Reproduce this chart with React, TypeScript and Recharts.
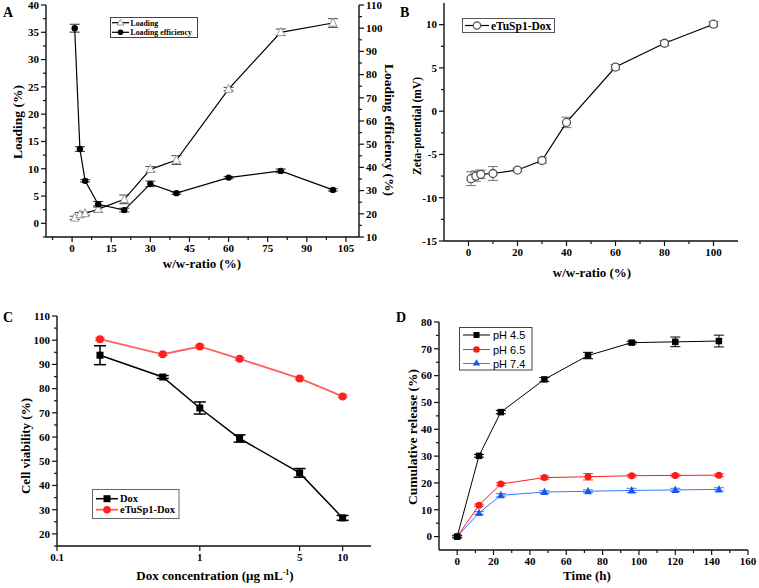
import React from 'react';
import { LineChart, Line, XAxis, YAxis, ErrorBar, Legend } from 'recharts';

const SERIF = '"Liberation Serif","Times New Roman",serif';
const SANS = '"Liberation Sans",Arial,sans-serif';

// ---------- Panel A ----------
const ratioA = [1, 3, 5, 10, 20, 30, 40, 60, 80, 100];
const loadingA = [1.0, 1.6, 1.8, 2.6, 4.4, 9.9, 11.6, 24.6, 35.0, 36.7];
const loadingErrA = [0.3, 0.4, 0.3, 0.6, 0.8, 0.5, 0.8, 0.3, 0.6, 0.8];
const effA = [100, 47.9, 34.2, 24.1, 21.6, 32.9, 28.9, 35.6, 38.5, 30.3];
const effErrA = [1.7, 1.0, 0.5, 1.2, 0.8, 1.2, 0.5, 0.5, 0.8, 0.5];
const xMajorA = [0, 15, 30, 45, 60, 75, 90, 105];
const xMinorA = [-7.5, 7.5, 22.5, 37.5, 52.5, 67.5, 82.5, 97.5];
const yMajorA = [0, 5, 10, 15, 20, 25, 30, 35, 40];
const yMinorA = [-2.5, 2.5, 7.5, 12.5, 17.5, 22.5, 27.5, 32.5, 37.5];
const y2MajorA = [10, 20, 30, 40, 50, 60, 70, 80, 90, 100, 110];
const y2MinorA = [15, 25, 35, 45, 55, 65, 75, 85, 95, 105];

// ---------- Panel B ----------
const ratioB = [1, 3, 5, 10, 20, 30, 40, 60, 80, 100];
const zetaB = [-7.8, -7.5, -7.3, -7.2, -6.8, -5.7, -1.3, 5.1, 7.85, 10.05];
const zetaErrB = [0.8, 0.6, 0.5, 0.8, 0.2, 0.3, 0.6, 0.3, 0.3, 0.3];
const xMajorB = [0, 20, 40, 60, 80, 100];
const xMinorB = [10, 30, 50, 70, 90];
const yMajorB = [-15, -10, -5, 0, 5, 10];
const yMinorB = [-12.5, -7.5, -2.5, 2.5, 7.5];

// ---------- Panel C ----------
const concC = [0.2, 0.55, 1, 1.9, 5, 10];
const doxC = [93.8, 84.8, 72.0, 59.4, 45.2, 26.6];
const doxErrC = [3.9, 0.6, 2.5, 1.5, 1.8, 1.0];
const tuC = [100.4, 94.2, 97.4, 92.3, 84.2, 76.8];
const tuErrC = [0.5, 0.5, 0.5, 0.5, 0.5, 0.5];
const xTicksC = [0.1, 1, 5, 10];
const yMajorC = [20, 30, 40, 50, 60, 70, 80, 90, 100, 110];
const yMinorC = [15, 25, 35, 45, 55, 65, 75, 85, 95, 105];

// ---------- Panel D ----------
const timeD = [0, 12, 24, 48, 72, 96, 120, 144];
const ph45 = [0, 30.1, 46.4, 58.6, 67.5, 72.3, 72.6, 72.9];
const ph45Err = [0.5, 0.5, 0.6, 0.7, 1.2, 0.5, 1.8, 2.2];
const ph65 = [0, 11.7, 19.6, 22.0, 22.3, 22.7, 22.8, 22.9];
const ph65Err = [0.3, 0.4, 0.5, 0.6, 1.2, 0.5, 0.5, 0.5];
const ph74 = [0, 8.8, 15.4, 16.6, 16.9, 17.2, 17.4, 17.6];
const ph74Err = [0.3, 0.5, 0.6, 0.5, 0.5, 0.8, 0.6, 0.6];
const xMajorD = [0, 20, 40, 60, 80, 100, 120, 140, 160];
const xMinorD = [10, 30, 50, 70, 90, 110, 130, 150];
const yMajorD = [0, 10, 20, 30, 40, 50, 60, 70, 80];
const yMinorD = [5, 15, 25, 35, 45, 55, 65, 75];

const rowsA = ratioA.map((x, i) => ({ x, loading: loadingA[i], loadingErr: loadingErrA[i], eff: effA[i], effErr: effErrA[i] }));
const rowsB = ratioB.map((x, i) => ({ x, zeta: zetaB[i], zetaErr: zetaErrB[i] }));
const rowsC = concC.map((x, i) => ({ x, dox: doxC[i], doxErr: doxErrC[i], tu: tuC[i], tuErr: tuErrC[i] }));
const rowsD = timeD.map((x, i) => ({ x, a: ph45[i], aErr: ph45Err[i], b: ph65[i], bErr: ph65Err[i], c: ph74[i], cErr: ph74Err[i] }));

const AX = '#111';

function tickFactory(orient: 'bottom' | 'left' | 'right', majors: number[], fs = 11) {
  return (p: any) => {
    const v = Number(p.payload.value);
    const isMajor = majors.some((m) => Math.abs(m - v) < 1e-6 * Math.max(1, Math.abs(m)));
    const len = isMajor ? 5 : 3;
    const { x, y } = p;
    const txt = isMajor ? String(v) : '';
    if (orient === 'bottom') {
      return (
        <g>
          <line x1={x} y1={y} x2={x} y2={y + len} stroke={AX} strokeWidth={1.2} />
          {isMajor && (
            <text x={x} y={y + 15} textAnchor="middle" fontSize={fs} fontWeight="bold" fontFamily={SERIF} fill="#000">{txt}</text>
          )}
        </g>
      );
    }
    if (orient === 'left') {
      return (
        <g>
          <line x1={x} y1={y} x2={x - len} y2={y} stroke={AX} strokeWidth={1.2} />
          {isMajor && (
            <text x={x - 7} y={y + fs * 0.35} textAnchor="end" fontSize={fs} fontWeight="bold" fontFamily={SERIF} fill="#000">{txt}</text>
          )}
        </g>
      );
    }
    return (
      <g>
        <line x1={x} y1={y} x2={x + len} y2={y} stroke={AX} strokeWidth={1.2} />
        {isMajor && (
          <text x={x + 7} y={y + fs * 0.35} textAnchor="start" fontSize={fs} fontWeight="bold" fontFamily={SERIF} fill="#000">{txt}</text>
        )}
      </g>
    );
  };
}

const squareDot = (s: number, fill: string) => (p: any) =>
  <rect key={`sq${p.index}`} x={p.cx - s / 2} y={p.cy - s / 2} width={s} height={s} fill={fill} />;
const circleDot = (r: number, fill: string, stroke: string, sw = 1) => (p: any) =>
  <circle key={`ci${p.index}`} cx={p.cx} cy={p.cy} r={r} fill={fill} stroke={stroke} strokeWidth={sw} />;
const triDot = (s: number, fill: string, stroke: string, sw = 1) => (p: any) =>
  <polygon key={`tr${p.index}`} points={`${p.cx},${p.cy - s * 0.6} ${p.cx - s / 2},${p.cy + s * 0.4} ${p.cx + s / 2},${p.cy + s * 0.4}`} fill={fill} stroke={stroke} strokeWidth={sw} />;

const legendBase = { layout: 'vertical' as const, align: 'center' as const, verticalAlign: 'middle' as const };

function LegendA() {
  return (
    <svg width={88} height={21} style={{ display: 'block' }}>
      <rect x={0.5} y={0.5} width={87} height={20} fill="#fff" stroke="#444" />
      <line x1={2} y1={5.7} x2={19} y2={5.7} stroke="#000" strokeWidth={1.2} />
      <polygon points="10.5,2.5 7,8 14,8" fill="#fff" stroke="#999" />
      <text x={20.5} y={8.6} fontSize={7.8} fontWeight="bold" fontFamily={SERIF}>Loading</text>
      <line x1={2} y1={15.3} x2={19} y2={15.3} stroke="#000" strokeWidth={1.2} />
      <circle cx={10.5} cy={15.3} r={2.8} fill="#000" />
      <text x={20.5} y={18.2} fontSize={7.8} fontWeight="bold" fontFamily={SERIF}>Loading efficiency</text>
    </svg>
  );
}

function LegendB() {
  return (
    <svg width={93} height={15} style={{ display: 'block' }}>
      <rect x={0.5} y={0.5} width={92} height={14} fill="#fff" stroke="#555" />
      <line x1={3} y1={7.5} x2={27} y2={7.5} stroke="#000" strokeWidth={1.2} />
      <circle cx={15} cy={7.5} r={3.6} fill="#fff" stroke="#555" strokeWidth={1.2} />
      <text x={29} y={11.5} fontSize={11.5} fontWeight="bold" fontFamily={SERIF}>eTuSp1-Dox</text>
    </svg>
  );
}

function LegendC() {
  return (
    <svg width={88} height={30} style={{ display: 'block' }}>
      <rect x={0.5} y={0.5} width={86.5} height={29} fill="#fff" stroke="#666" />
      <line x1={4} y1={9.7} x2={26} y2={9.7} stroke="#000" strokeWidth={1.5} />
      <rect x={11.5} y={6.2} width={7} height={7} fill="#000" />
      <text x={28} y={13.3} fontSize={10.5} fontWeight="bold" fontFamily={SERIF}>Dox</text>
      <line x1={4} y1={20.7} x2={26} y2={20.7} stroke="#ff6060" strokeWidth={1.8} />
      <circle cx={15} cy={20.7} r={3.8} fill="#ff2020" />
      <text x={28} y={24.3} fontSize={10.5} fontWeight="bold" fontFamily={SERIF}>eTuSp1-Dox</text>
    </svg>
  );
}

function LegendD() {
  return (
    <svg width={74} height={44} style={{ display: 'block' }}>
      <rect x={0.5} y={0.5} width={72.5} height={42.5} fill="#fff" stroke="#444" />
      <line x1={4} y1={8} x2={31} y2={8} stroke="#000" strokeWidth={1} />
      <rect x={14.5} y={5} width={6} height={6} fill="#000" />
      <text x={34} y={12} fontSize={11} fontFamily={SANS}>pH 4.5</text>
      <line x1={4} y1={22.5} x2={31} y2={22.5} stroke="#ff1a1a" strokeWidth={1} />
      <circle cx={17.5} cy={22.5} r={3.3} fill="#ff1a1a" />
      <text x={34} y={26.5} fontSize={11} fontFamily={SANS}>pH 6.5</text>
      <line x1={4} y1={36.5} x2={31} y2={36.5} stroke="#3a78ff" strokeWidth={1} />
      <polygon points="17.5,32.3 13.8,38.6 21.2,38.6" fill="#1a56e8" />
      <text x={34} y={40.5} fontSize={11} fontFamily={SANS}>pH 7.4</text>
    </svg>
  );
}

function PanelA() {
  return (
    <LineChart width={400} height={290} data={rowsA} margin={{ top: 5, right: 0, bottom: 23, left: 0 }}>
      <XAxis dataKey="x" type="number" domain={[-10, 110]} ticks={[...xMinorA, ...xMajorA].sort((a, b) => a - b)} interval={0}
        allowDataOverflow height={30} tickSize={0} tickMargin={0} tickLine={false} tick={tickFactory('bottom', xMajorA)}
        axisLine={{ stroke: AX, strokeWidth: 1.4 }} />
      <XAxis xAxisId="top" orientation="top" type="number" domain={[-10, 110]} height={0} tick={false} tickLine={false}
        axisLine={{ stroke: AX, strokeWidth: 1.4 }} />
      <YAxis yAxisId="left" type="number" domain={[-2.5, 40]} allowDataOverflow width={46}
        ticks={[...yMinorA, ...yMajorA].sort((a, b) => a - b)} interval={0} tickSize={0} tickMargin={0} tickLine={false}
        tick={tickFactory('left', yMajorA)} axisLine={{ stroke: AX, strokeWidth: 1.4 }} />
      <YAxis yAxisId="right" orientation="right" type="number" domain={[10, 110]} allowDataOverflow width={41}
        ticks={[...y2MinorA, ...y2MajorA].sort((a, b) => a - b)} interval={0} tickSize={0} tickMargin={0} tickLine={false}
        tick={tickFactory('right', y2MajorA)} axisLine={{ stroke: AX, strokeWidth: 1.4 }} />
      <Line yAxisId="left" dataKey="loading" stroke="#000" strokeWidth={1.2} isAnimationActive={false}
        dot={triDot(8, '#fff', '#999', 1)}>
        <ErrorBar dataKey="loadingErr" width={5} stroke="#444" strokeWidth={1} />
      </Line>
      <Line yAxisId="right" dataKey="eff" stroke="#000" strokeWidth={1.2} isAnimationActive={false}
        dot={circleDot(3.2, '#000', '#000', 0)}>
        <ErrorBar dataKey="effErr" width={5} stroke="#333" strokeWidth={1} />
      </Line>
      <Legend {...legendBase} content={() => <LegendA />} wrapperStyle={{ left: 110, top: 17, width: 88, height: 21 }} />
    </LineChart>
  );
}

function PanelB() {
  return (
    <LineChart width={359} height={290} data={rowsB} margin={{ top: 3, right: 21, bottom: 19, left: 0 }}>
      <XAxis dataKey="x" type="number" domain={[-10, 110]} ticks={[...xMinorB, ...xMajorB].sort((a, b) => a - b)} interval={0}
        allowDataOverflow height={30} tickSize={0} tickMargin={0} tickLine={false} tick={tickFactory('bottom', xMajorB)}
        axisLine={{ stroke: AX, strokeWidth: 1.4 }} />
      <XAxis xAxisId="top" orientation="top" type="number" domain={[-10, 110]} height={0} tick={false} tickLine={false}
        axisLine={{ stroke: AX, strokeWidth: 1.4 }} />
      <YAxis type="number" domain={[-15, 12.5]} allowDataOverflow width={44}
        ticks={[...yMinorB, ...yMajorB].sort((a, b) => a - b)} interval={0} tickSize={0} tickMargin={0} tickLine={false}
        tick={tickFactory('left', yMajorB)} axisLine={{ stroke: AX, strokeWidth: 1.4 }} />
      <YAxis yAxisId="frame" orientation="right" type="number" domain={[0, 1]} width={0} tick={false} tickLine={false}
        axisLine={{ stroke: AX, strokeWidth: 1.4 }} />
      <Line dataKey="zeta" stroke="#000" strokeWidth={1.2} isAnimationActive={false}
        dot={circleDot(4, '#fff', '#555', 1.3)}>
        <ErrorBar dataKey="zetaErr" width={5} stroke="#777" strokeWidth={1} />
      </Line>
      <Legend {...legendBase} content={() => <LegendB />} wrapperStyle={{ left: 62, top: 18, width: 93, height: 15 }} />
    </LineChart>
  );
}

function PanelC() {
  return (
    <LineChart width={380} height={298} data={rowsC} margin={{ top: 26, right: 9, bottom: 12, left: 0 }}>
      <XAxis dataKey="x" type="number" scale="log" domain={[0.1, 15.8]} ticks={xTicksC} interval={0}
        allowDataOverflow height={30} tickSize={0} tickMargin={0} tickLine={false} tick={tickFactory('bottom', xTicksC)}
        axisLine={{ stroke: AX, strokeWidth: 1.4 }} />
      <XAxis xAxisId="top" orientation="top" type="number" domain={[0, 1]} height={0} tick={false} tickLine={false}
        axisLine={{ stroke: AX, strokeWidth: 1.4 }} />
      <YAxis type="number" domain={[15, 110]} allowDataOverflow width={57}
        ticks={[...yMinorC, ...yMajorC].sort((a, b) => a - b)} interval={0} tickSize={0} tickMargin={0} tickLine={false}
        tick={tickFactory('left', yMajorC)} axisLine={{ stroke: AX, strokeWidth: 1.4 }} />
      <YAxis yAxisId="frame" orientation="right" type="number" domain={[0, 1]} width={0} tick={false} tickLine={false}
        axisLine={{ stroke: AX, strokeWidth: 1.4 }} />
      <Line dataKey="tu" stroke="#ff6060" strokeWidth={1.8} isAnimationActive={false}
        dot={circleDot(4, '#ff2020', '#ff2020', 0)}>
        <ErrorBar dataKey="tuErr" width={5} stroke="#ff4040" strokeWidth={1} />
      </Line>
      <Line dataKey="dox" stroke="#000" strokeWidth={1.5} isAnimationActive={false}
        dot={squareDot(7, '#000')}>
        <ErrorBar dataKey="doxErr" width={6} stroke="#000" strokeWidth={1.5} />
      </Line>
      <Legend {...legendBase} content={() => <LegendC />} wrapperStyle={{ left: 92, top: 199, width: 88, height: 30 }} />
    </LineChart>
  );
}

function PanelD() {
  return (
    <LineChart width={379} height={298} data={rowsD} margin={{ top: 32, right: 11, bottom: 8, left: 0 }}>
      <XAxis dataKey="x" type="number" domain={[-10, 160]} ticks={[...xMinorD, ...xMajorD].sort((a, b) => a - b)} interval={0}
        allowDataOverflow height={30} tickSize={0} tickMargin={0} tickLine={false} tick={tickFactory('bottom', xMajorD)}
        axisLine={{ stroke: AX, strokeWidth: 1.4 }} />
      <XAxis xAxisId="top" orientation="top" type="number" domain={[-10, 160]} height={0} tick={false} tickLine={false}
        axisLine={{ stroke: AX, strokeWidth: 1.4 }} />
      <YAxis type="number" domain={[-5, 80]} allowDataOverflow width={59}
        ticks={[...yMinorD, ...yMajorD].sort((a, b) => a - b)} interval={0} tickSize={0} tickMargin={0} tickLine={false}
        tick={tickFactory('left', yMajorD)} axisLine={{ stroke: AX, strokeWidth: 1.4 }} />
      <YAxis yAxisId="frame" orientation="right" type="number" domain={[0, 1]} width={0} tick={false} tickLine={false}
        axisLine={{ stroke: AX, strokeWidth: 1.4 }} />
      <Line dataKey="c" stroke="#3a78ff" strokeWidth={1} isAnimationActive={false} dot={triDot(7.5, '#1a56e8', '#1a56e8', 0)}>
        <ErrorBar dataKey="cErr" width={5} stroke="#3a78ff" strokeWidth={1} />
      </Line>
      <Line dataKey="b" stroke="#ff1a1a" strokeWidth={1} isAnimationActive={false} dot={circleDot(3.5, '#ff1a1a', '#ff1a1a', 0)}>
        <ErrorBar dataKey="bErr" width={5} stroke="#ff4040" strokeWidth={1} />
      </Line>
      <Line dataKey="a" stroke="#000" strokeWidth={1} isAnimationActive={false} dot={squareDot(6.5, '#000')}>
        <ErrorBar dataKey="aErr" width={5} stroke="#000" strokeWidth={1} />
      </Line>
      <Legend {...legendBase} content={() => <LegendD />} wrapperStyle={{ left: 79, top: 37, width: 74, height: 44 }} />
    </LineChart>
  );
}

const T = { fontFamily: SERIF, fontWeight: 'bold' as const, fill: '#000' };

export default function App() {
  return (
    <div style={{ position: 'absolute', left: 0, top: 0, width: 759, height: 588, background: '#fff', overflow: 'hidden' }}>
      <div style={{ position: 'absolute', left: 0, top: 0 }}><PanelA /></div>
      <div style={{ position: 'absolute', left: 400, top: 0 }}><PanelB /></div>
      <div style={{ position: 'absolute', left: 0, top: 290 }}><PanelC /></div>
      <div style={{ position: 'absolute', left: 380, top: 290 }}><PanelD /></div>
      <svg width={759} height={588} style={{ position: 'absolute', left: 0, top: 0, pointerEvents: 'none' }}>
        <text x={3} y={17} fontSize={14} {...T}>A</text>
        <text x={400} y={17} fontSize={14} {...T}>B</text>
        <text x={3} y={322} fontSize={14} {...T}>C</text>
        <text x={396} y={322} fontSize={14} {...T}>D</text>

        <text transform="translate(22,122) rotate(-90)" textAnchor="middle" fontSize={13.5} {...T}>Loading (%)</text>
        <text transform="translate(384.5,130) rotate(90)" textAnchor="middle" fontSize={13.5} {...T}>Loading efficiency (%)</text>
        <text x={202} y={268} textAnchor="middle" fontSize={13} {...T}>w/w-ratio (%)</text>

        <text transform="translate(420.5,126) rotate(-90)" textAnchor="middle" fontSize={11.5} {...T}>Zeta-potential (mV)</text>
        <text x={592} y={277} textAnchor="middle" fontSize={13} {...T}>w/w-ratio (%)</text>

        <text transform="translate(29.5,446) rotate(-90)" textAnchor="middle" fontSize={13} {...T}>Cell viability (%)</text>
        <text x={215} y={580} textAnchor="middle" fontSize={13} {...T}>
          Dox concentration (μg mL<tspan dy={-5} fontSize={8}>-1</tspan><tspan dy={5}>)</tspan>
        </text>

        <text transform="translate(416.5,437) rotate(-90)" textAnchor="middle" fontSize={13.5} {...T}>Cumulative release (%)</text>
        <text x={587} y={580} textAnchor="middle" fontSize={13} {...T}>Time (h)</text>
      </svg>
    </div>
  );
}
